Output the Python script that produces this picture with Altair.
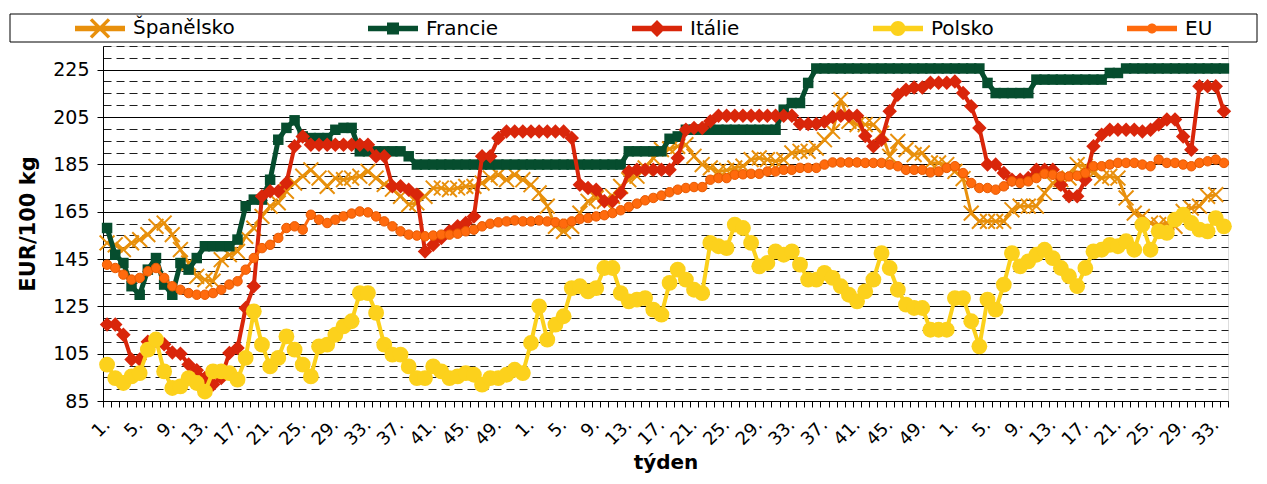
import json
import altair as alt
import pandas as pd

# ---------------- data ----------------
series_names = ["Španělsko", "Francie", "Itálie", "Polsko", "EU"]
series_colors = ["#E8900C", "#064D2E", "#D9260A", "#FCD11C", "#FF6A0D"]

weeks = list(range(1, 53)) + list(range(1, 53)) + list(range(1, 35))
tick_labels = [f"{w}." if w % 4 == 1 else "" for w in weeks]

spain = [
    151.8, 151.0, 149.0, 151.8, 153.2, 155.3, 158.8, 160.2, 155.3, 149.0,
    143.3, 137.7, 136.3, 135.6, 144.7, 146.8, 148.2, 154.6, 158.0, 163.0,
    167.3, 168.7, 173.6, 177.1, 180.0, 182.7, 179.2, 175.7, 179.2, 178.5,
    179.2, 180.0, 182.0, 179.2, 176.5, 174.5, 171.5, 168.0, 168.7, 171.5,
    175.0, 175.0, 174.3, 175.0, 175.7, 175.7, 177.1, 179.2, 180.6, 178.5,
    180.6, 178.5, 176.4, 172.9, 167.3, 158.8, 156.7, 158.8, 164.4, 169.4,
    170.8, 169.4, 171.5, 175.7, 178.5, 180.0, 183.5, 187.7, 191.2, 191.5,
    192.6, 193.3, 188.4, 184.9, 183.5, 182.0, 182.5, 183.5, 184.2, 187.0,
    187.7, 187.0, 186.3, 187.0, 189.8, 190.5, 190.5, 191.9, 195.4, 198.9,
    212.3, 203.2, 201.8, 201.8, 201.8, 198.2, 188.4, 194.7, 191.2, 189.1,
    189.8, 185.6, 185.6, 184.9, 182.0, 179.0, 164.4, 160.9, 160.9, 160.9,
    160.9, 165.8, 167.3, 167.3, 167.3, 172.9, 177.1, 178.5, 179.2, 184.9,
    184.2, 181.3, 179.2, 180.0, 179.2, 170.8, 164.4, 163.0, 160.2, 159.5,
    160.2, 158.8, 165.1, 166.5, 167.3, 171.5, 172.2, None,
]

france = [
    158.1, 146.8, 143.3, 133.5, 129.9, 140.5, 145.4, 134.2, 129.9, 143.3,
    140.5, 145.4, 150.4, 150.4, 150.4, 150.4, 153.2, 167.3, 170.1, 170.1,
    178.5, 195.4, 200.4, 203.6, 196.8, 196.1, 196.1, 196.1, 199.6, 200.4,
    200.4, 190.5, 190.5, 190.5, 190.5, 190.5, 190.5, 188.4, 184.9, 184.9,
    184.9, 184.9, 184.9, 184.9, 184.9, 184.9, 184.9, 184.9, 184.9, 184.9,
    184.9, 184.9, 184.9, 184.9, 184.9, 184.9, 184.9, 184.9, 184.9, 184.9,
    184.9, 184.9, 184.9, 184.9, 190.5, 190.5, 190.5, 190.5, 190.5, 195.8,
    196.8, 199.6, 199.6, 199.6, 199.6, 199.6, 199.6, 199.6, 199.6, 199.6,
    199.6, 199.6, 199.6, 208.1, 210.9, 210.9, 219.4, 225.5, 225.5, 225.5,
    225.5, 225.5, 225.5, 225.5, 225.5, 225.5, 225.5, 225.5, 225.5, 225.5,
    225.5, 225.5, 225.5, 225.5, 225.5, 225.5, 225.5, 225.5, 219.4, 215.1,
    215.1, 215.1, 215.1, 215.1, 220.8, 220.8, 220.8, 220.8, 220.8, 220.8,
    220.8, 220.8, 220.8, 223.6, 223.6, 225.5, 225.5, 225.5, 225.5, 225.5,
    225.5, 225.5, 225.5, 225.5, 225.5, 225.5, 225.5, 225.5,
]

italy = [
    117.3, 117.3, 113.0, 102.5, 102.5, 110.0, 110.5, 109.0, 105.5, 105.0,
    100.4, 98.0, 94.7, 92.0, 94.7, 105.3, 107.4, 124.3, 133.5, 171.5,
    173.6, 173.6, 177.1, 192.6, 196.8, 193.3, 193.3, 193.3, 193.3, 193.3,
    193.3, 193.3, 193.3, 188.4, 188.4, 175.7, 175.7, 174.3, 172.2, 148.2,
    151.0, 153.9, 156.7, 158.8, 160.2, 163.0, 188.4, 188.4, 196.1, 198.9,
    198.9, 198.9, 198.9, 198.9, 198.9, 198.9, 198.9, 196.1, 176.4, 175.0,
    174.3, 169.4, 169.4, 172.9, 182.0, 182.7, 182.7, 182.7, 182.7, 182.7,
    187.7, 199.6, 200.4, 200.4, 203.2, 205.5, 205.5, 205.5, 205.5, 205.5,
    205.5, 205.5, 205.5, 205.5, 205.5, 202.0, 202.0, 202.0, 203.0, 205.0,
    205.5, 205.5, 205.5, 197.0, 192.6, 195.4, 207.4, 214.4, 216.5, 217.5,
    217.5, 219.5, 219.5, 219.5, 220.0, 215.1, 209.5, 200.4, 184.9, 184.9,
    181.3, 178.5, 178.5, 179.2, 182.7, 182.7, 182.7, 176.4, 171.5, 171.5,
    178.5, 192.6, 197.5, 199.6, 199.6, 199.6, 199.6, 198.9, 199.6, 201.8,
    203.9, 203.9, 196.8, 191.2, 218.0, 218.0, 218.0, 207.4,
]

poland = [
    100.4, 94.7, 92.6, 95.4, 96.8, 106.7, 111.0, 97.5, 90.5, 91.2,
    94.7, 92.6, 89.0, 97.5, 97.5, 96.8, 94.0, 103.2, 122.9, 108.8,
    99.6, 103.2, 112.3, 106.7, 100.4, 95.4, 108.1, 108.8, 113.0, 116.5,
    118.7, 130.6, 130.6, 122.2, 108.8, 104.6, 104.6, 99.6, 94.7, 94.7,
    99.6, 97.5, 94.7, 95.4, 96.8, 96.1, 91.9, 94.7, 94.7, 96.1,
    98.2, 96.8, 109.5, 125.0, 110.9, 117.3, 120.8, 132.7, 133.5, 131.3,
    132.7, 141.2, 141.2, 130.6, 127.1, 127.8, 128.5, 123.6, 121.5, 134.9,
    140.5, 136.3, 132.0, 130.6, 151.8, 150.4, 149.6, 159.5, 158.1, 151.8,
    141.9, 143.3, 148.2, 146.8, 148.2, 142.6, 136.3, 136.3, 139.1, 137.0,
    133.5, 129.9, 127.1, 131.3, 136.3, 147.5, 141.2, 132.0, 125.7, 124.3,
    124.3, 115.1, 115.1, 115.1, 128.5, 128.5, 118.7, 108.1, 127.8, 123.6,
    134.2, 147.5, 141.9, 144.0, 146.8, 148.9, 145.4, 141.2, 137.7, 133.5,
    141.2, 148.2, 148.9, 151.0, 150.4, 152.5, 148.9, 159.5, 148.9, 156.7,
    156.0, 161.6, 163.7, 160.2, 157.4, 156.7, 162.3, 158.8,
]

eu = [
    142.6, 141.2, 138.4, 136.3, 137.0, 139.8, 141.2, 137.0, 133.5, 132.0,
    130.6, 129.9, 129.9, 130.6, 132.0, 134.2, 135.6, 140.5, 145.4, 149.6,
    151.0, 153.9, 158.1, 158.8, 157.4, 163.7, 161.6, 160.2, 161.6, 163.0,
    164.2, 165.1, 164.7, 163.0, 160.9, 158.8, 156.7, 155.3, 154.9, 154.6,
    154.9, 155.3, 155.3, 155.7, 156.7, 157.4, 158.8, 159.9, 160.5, 160.9,
    161.3, 160.9, 160.9, 161.3, 160.9, 160.5, 159.9, 160.9, 161.9, 162.3,
    163.0, 163.5, 164.4, 165.6, 167.0, 168.4, 169.8, 170.8, 171.8, 173.2,
    174.3, 175.0, 175.4, 175.4, 178.5, 179.2, 179.2, 180.6, 180.8, 181.0,
    181.0, 182.0, 182.0, 182.7, 182.7, 183.5, 183.5, 183.5, 184.9, 185.8,
    185.8, 185.8, 185.8, 185.6, 185.6, 185.6, 184.9, 184.2, 182.7, 182.7,
    182.7, 181.6, 182.0, 183.5, 184.2, 181.3, 177.1, 175.0, 175.0, 174.3,
    175.7, 177.8, 177.1, 177.8, 179.2, 181.0, 180.6, 179.9, 179.9, 180.2,
    181.3, 184.2, 184.2, 184.9, 185.6, 185.6, 185.6, 184.9, 184.2, 187.0,
    185.6, 185.6, 184.9, 184.2, 185.6, 186.3, 187.0, 185.6,
]

all_series = [spain, france, italy, poland, eu]
for s in all_series:
    assert len(s) == len(weeks), len(s)

rows = []
for name, vals in zip(series_names, all_series):
    for i, v in enumerate(vals):
        if v is not None:
            rows.append({"idx": i, "series": name, "value": v})
df = pd.DataFrame(rows)
idx_domain = list(range(len(weeks)))

# ---------------- styles ----------------
FONT = "DejaVu Sans"
X_PATH = "M-1,-1L1,1M-1,1L1,-1"
marker_styles = {
    "Španělsko": dict(shape=X_PATH, size=220, filled=False, strokeWidth=2.0, line=3),
    "Francie": dict(shape="square", size=110, filled=True, strokeWidth=0, line=5),
    "Itálie": dict(shape="diamond", size=210, filled=True, strokeWidth=0, line=4),
    "Polsko": dict(shape="circle", size=250, filled=True, strokeWidth=0, line=4),
    "EU": dict(shape="circle", size=90, filled=True, strokeWidth=1, line=3),
}

bar = "M-1,-0.11L1,-0.11L1,0.11L-1,0.11Z"
legend_paths = [
    bar + "M-0.3105,-0.4095L0.4095,0.3105L0.3105,0.4095L-0.4095,-0.3105Z"
        + "M-0.4095,0.3105L0.3105,-0.4095L0.4095,-0.3105L-0.3105,0.4095Z",
    bar + "M-0.24,-0.24L0.24,-0.24L0.24,0.24L-0.24,0.24Z",
    bar + "M0,-0.34L0.34,0L0,0.34L-0.34,0Z",
    bar + "M0.3,0A0.3,0.3,0,1,1,-0.3,0A0.3,0.3,0,1,1,0.3,0Z",
    bar + "M0.2,0A0.2,0.2,0,1,1,-0.2,0A0.2,0.2,0,1,1,0.2,0Z",
]

major_test = "datum.value % 20 == 5"

x_enc = alt.X(
    "idx:O",
    bandPosition=0.5,
    scale=alt.Scale(type="band", domain=idx_domain, paddingInner=0, paddingOuter=0),
    axis=alt.Axis(
        title="týden",
        titleFont=FONT, titleFontSize=20, titleFontWeight="bold", titleColor="black",
        titlePadding=4,
        labelExpr=json.dumps(tick_labels, ensure_ascii=False) + "[datum.value]",
        labelAngle=-45, labelAlign="right", labelBaseline="middle",
        labelFont=FONT, labelFontSize=18, labelColor="black", labelPadding=15,
        labelOverlap=False,
        tickBand="extent", tickSize=6, tickColor="black", tickWidth=1,
        domainColor="black", domainWidth=1, grid=False,
    ),
)

y_enc = alt.Y(
    "value:Q",
    scale=alt.Scale(domain=[85, 235], nice=False, zero=False),
    axis=alt.Axis(
        title="EUR/100 kg",
        titleFont=FONT, titleFontSize=21, titleFontWeight="bold", titleColor="black",
        titlePadding=14,
        values=list(range(85, 240, 5)),
        labelExpr=f"{major_test} ? datum.label : ''",
        labelFont=FONT, labelFontSize=19, labelColor="black", labelPadding=8,
        tickSize=6, tickColor="black",
        tickOpacity={"condition": {"test": major_test, "value": 1}, "value": 0},
        domainColor="black", domainWidth=1,
        grid=True,
        gridDash={"condition": {"test": major_test, "value": []}, "value": [8, 5]},
        gridColor={"condition": {"test": major_test, "value": "#000000"}, "value": "#1e1e1e"},
        gridWidth=1,
    ),
)

legend_obj = alt.Legend(
    orient="none", legendX=-28, legendY=-43, direction="horizontal", columns=5,
    columnPadding=133, padding=0, labelFont=FONT, labelFontSize=20, labelColor="black",
    labelOffset=8, labelLimit=0, symbolSize=2500, symbolStrokeWidth=0, symbolOpacity=1,
    title=None,
)

legend_box = alt.Chart(alt.Data(values=[{}])).mark_rect(
    fillOpacity=0, stroke="black", strokeWidth=1
).encode(
    x=alt.value(-93), x2=alt.value(1154), y=alt.value(-32), y2=alt.value(-4)
)

legend_layer = alt.Chart(df).transform_filter("false").mark_point(
    filled=True, opacity=1
).encode(
    x=x_enc, y=y_enc,
    color=alt.Color("series:N", scale=alt.Scale(domain=series_names, range=series_colors), legend=legend_obj),
    shape=alt.Shape("series:N", scale=alt.Scale(domain=series_names, range=legend_paths), legend=legend_obj),
)

layers = [legend_box, legend_layer]
for name, color in zip(series_names, series_colors):
    st = marker_styles[name]
    base = alt.Chart(df).transform_filter(alt.datum.series == name)
    line = base.mark_line(color=color, strokeWidth=st["line"], strokeJoin="round").encode(x=x_enc, y=y_enc)
    if st["filled"]:
        if name == "EU":
            pts = base.mark_point(shape=st["shape"], size=st["size"], filled=True, fill=color,
                                  stroke="#E85A00", strokeWidth=st["strokeWidth"], opacity=1)
        else:
            pts = base.mark_point(shape=st["shape"], size=st["size"], filled=True, color=color, opacity=1)
    else:
        pts = base.mark_point(shape=st["shape"], size=st["size"], filled=False, color=color,
                              strokeWidth=st["strokeWidth"], opacity=1)
    pts = pts.encode(x=x_enc, y=y_enc)
    layers += [line, pts]

chart = alt.layer(*layers).properties(
    width=1125,
    height=355,
    autosize=alt.AutoSizeParams(type="none"),
    padding={"left": 95, "top": 38, "right": 31, "bottom": 75},
).configure_view(strokeWidth=0).configure(background="white")

chart.save("out.html", embed_options={"renderer": "svg", "actions": False})
